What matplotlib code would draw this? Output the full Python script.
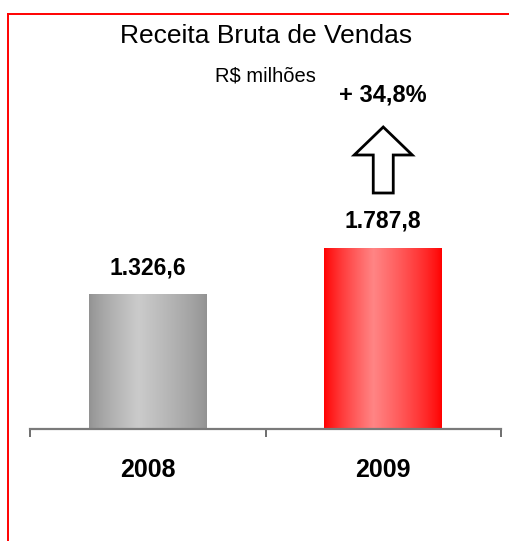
import numpy as np
import matplotlib
matplotlib.use("Agg")
import matplotlib.pyplot as plt
from matplotlib.lines import Line2D
from matplotlib.patches import Polygon
import matplotlib.transforms as mtransforms

plt.rcParams['font.family'] = ['Liberation Sans', 'DejaVu Sans']

# ---- data ----
categories = ["2008", "2009"]
values = [1326.6, 1787.8]
value_labels = ["1.326,6", "1.787,8"]
title = "Receita Bruta de Vendas"
subtitle = "R$ milhões"
growth_label = "+ 34,8%"

W, H = 510, 541
DPI = 100
fig = plt.figure(figsize=(W / DPI, H / DPI), dpi=DPI)

def fx(px):
    return px / W

def fy(py):
    return 1 - py / H

# axes placement
ax_left, ax_right, ax_top, ax_bottom = 30, 501, 14, 429
ax = fig.add_axes([fx(ax_left), fy(ax_bottom), fx(ax_right - ax_left), (ax_bottom - ax_top) / H])
ax.set_xlim(-0.5, 1.5)
ax.set_ylim(0, 4100)
ax.patch.set_alpha(0)

# gradient bars
def gradient(edge, center, n=256, peak=0.42):
    t = np.linspace(0, 1, n)
    w = np.where(t < peak, t / peak, (1 - t) / (1 - peak))
    w = np.clip(w, 0, 1) ** 0.8
    edge = np.array(matplotlib.colors.to_rgb(edge))
    center = np.array(matplotlib.colors.to_rgb(center))
    cols = edge[None, :] * (1 - w[:, None]) + center[None, :] * w[:, None]
    return cols[None, :, :]

grads = [gradient("#929292", "#cbcbcb"), gradient("#ff0000", "#ff8585")]
bar_w = 0.5
bars = ax.bar(range(len(values)), values, width=bar_w, color="none", edgecolor="none", zorder=2)
for b, g in zip(bars, grads):
    x0, y0 = b.get_x(), b.get_y()
    ax.imshow(g, extent=[x0, x0 + b.get_width(), y0, y0 + b.get_height()],
              aspect="auto", zorder=1, interpolation="bilinear")
ax.set_xlim(-0.5, 1.5)
ax.set_ylim(0, 4100)

# value labels
for i, (v, lab) in enumerate(zip(values, value_labels)):
    ax.annotate(lab, (i, v), xytext=(0, 19.5), textcoords="offset points",
                ha="center", va="center", fontsize=16.5, fontweight="bold", color="black")

# spines / ticks
for s in ["top", "right", "left"]:
    ax.spines[s].set_visible(False)
ax.spines["bottom"].set_color("#7a7a7a")
ax.spines["bottom"].set_linewidth(1.6)
ax.spines["bottom"].set_zorder(3)
ax.set_yticks([])
ax.set_xticks(range(len(categories)))
ax.set_xticklabels(categories, fontsize=18, fontweight="bold")
ax.tick_params(axis="x", which="major", length=0, pad=21)
ax.set_xticks([-0.5, 0.5, 1.5], minor=True)
ax.tick_params(axis="x", which="minor", length=5.5, width=1.2, color="#555555", direction="out")

# titles
fig.text(fx(266), fy(36), title, ha="center", va="center", fontsize=19)
fig.text(fx(265), fy(76), subtitle, ha="center", va="center", fontsize=14.5)

# growth arrow over 2009 bar (axes-fraction y, data x)
trans = mtransforms.blended_transform_factory(ax.transData, ax.transAxes)
def ay(py):
    return (ax_bottom - py) / (ax_bottom - ax_top)
hw = 29 / (ax_right - ax_left) * 2   # head half width in data units
sw = 10 / (ax_right - ax_left) * 2   # shaft half width in data units
cx = 1
arrow = Polygon([
    (cx, ay(127)), (cx + hw, ay(155)), (cx + sw, ay(155)), (cx + sw, ay(193)),
    (cx - sw, ay(193)), (cx - sw, ay(155)), (cx - hw, ay(155))
], closed=True, transform=trans, facecolor="white", edgecolor="black",
    linewidth=2.0, joinstyle="miter", clip_on=False, zorder=4)
ax.add_patch(arrow)
ax.text(cx, ay(95), growth_label, transform=trans, ha="center", va="center",
        fontsize=17, fontweight="bold")

# red frame (top and left)
fig.add_artist(Line2D([fx(8), 1.0], [fy(14), fy(14)], color="#ff0000", linewidth=1.4))
fig.add_artist(Line2D([fx(8), fx(8)], [fy(14), 0.0], color="#ff0000", linewidth=1.4))

fig.savefig("out.png", dpi=DPI)
